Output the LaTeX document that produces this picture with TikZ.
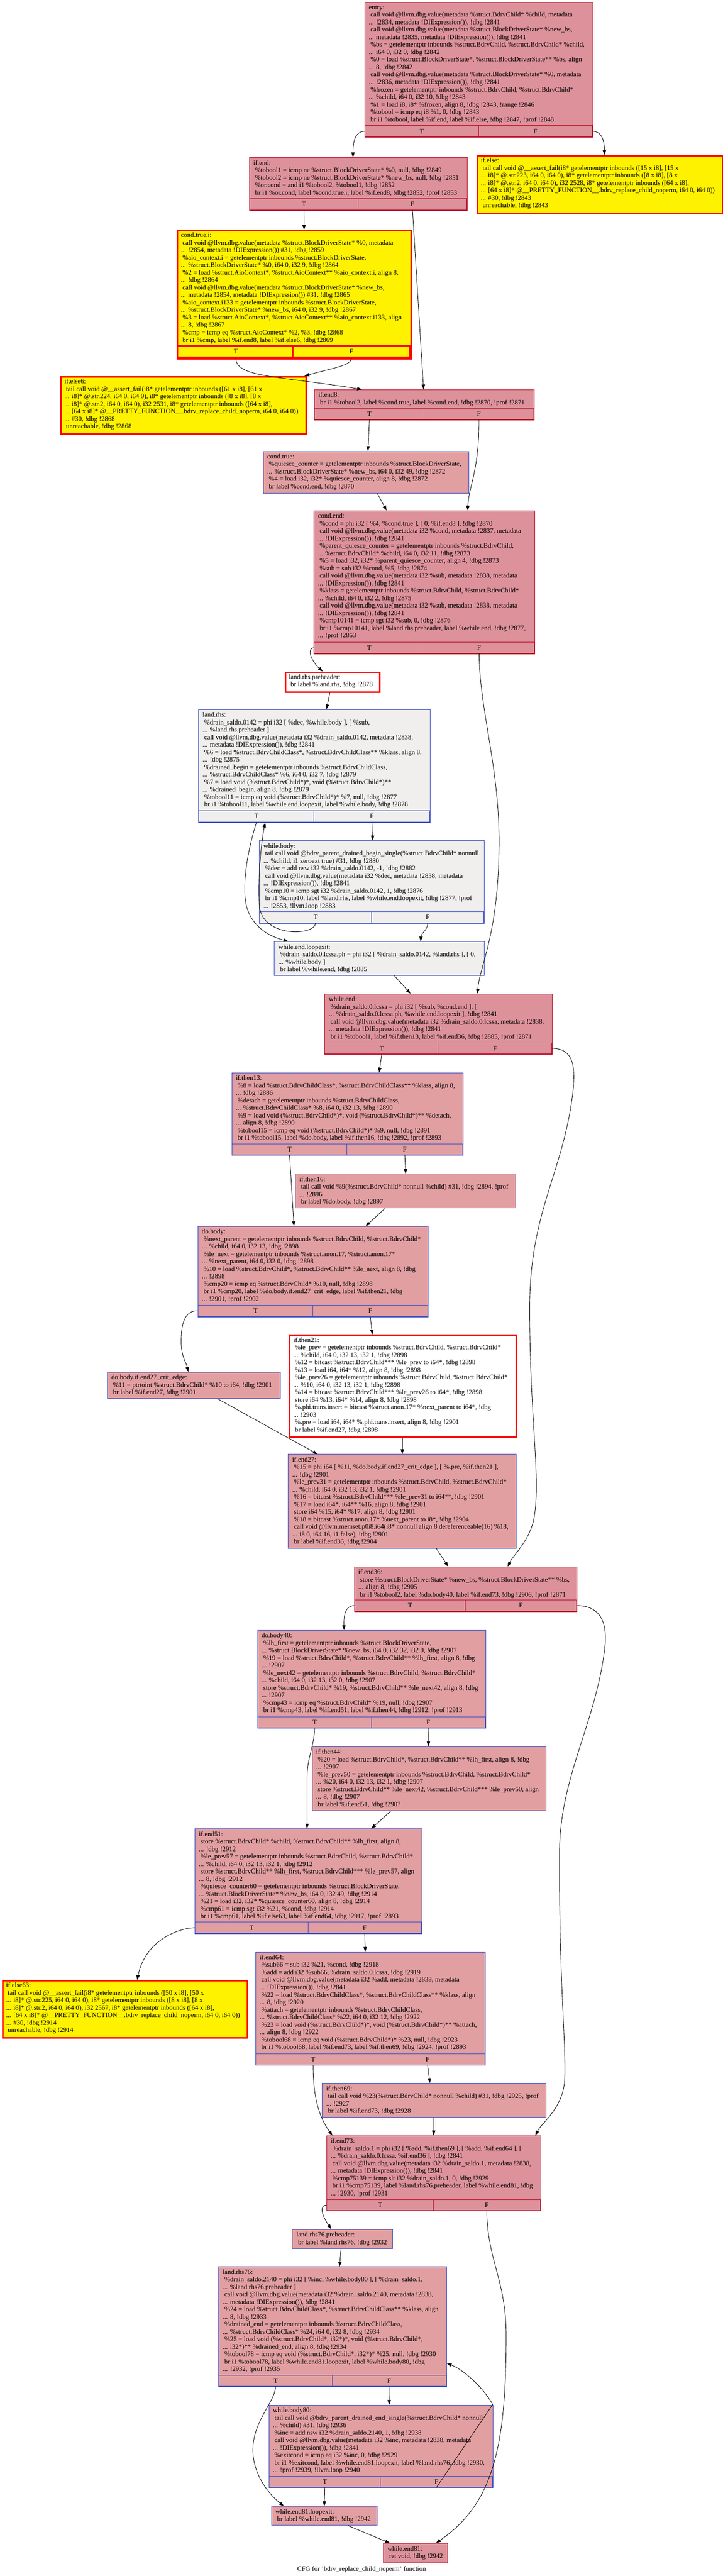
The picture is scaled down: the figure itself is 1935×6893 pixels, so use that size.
\documentclass[tikz,border=0pt]{standalone}
\usepackage{fontspec}
\setmainfont{Liberation Serif}
\usetikzlibrary{arrows.meta}
\definecolor{hotfill}{HTML}{DD929B}
\definecolor{warmfill}{HTML}{E29FA2}
\definecolor{coldfill}{HTML}{F0EFEE}
\definecolor{hotline}{HTML}{B70D28}
\definecolor{coolline}{HTML}{3D50C3}

% block: style, name, x1, y1, x2, y2, text
\newcommand\cfgbox[7]{%
  \pgfmathsetmacro\boxw{(#5-#3)/2}%
  \pgfmathsetmacro\boxh{(#6-#4)/2}%
  \node[#1,anchor=north west,minimum width=\boxw pt,minimum height=\boxh pt] (#2) at (#3,#4) {};
  \node[txt,anchor=north west] (#2-txt) at (#3+11,#4+6) {\strut{}#7};
}
% T/F row: style, name, x1, x2, y2
\newcommand\cfgtf[5]{%
  \pgfmathsetmacro\cellw{(#4-#3)/4}%
  \node[#1,txt,anchor=south west,minimum width=\cellw pt,minimum height=15pt] (#2T) at (#3,#5) {T};
  \node[#1,txt,anchor=south east,minimum width=\cellw pt,minimum height=15pt] (#2F) at (#4,#5) {F};
}

\begin{document}
\begin{tikzpicture}[x=0.5pt,y=-0.5pt]
  \tikzstyle{hot}=[draw=hotline,fill=hotfill,line width=0.7pt]
  \tikzstyle{warm}=[draw=coolline,fill=warmfill,line width=0.6pt]
  \tikzstyle{cold}=[draw=coolline,fill=coldfill,line width=0.6pt]
  \tikzstyle{fail}=[draw=red,fill=yellow,line width=2pt]
  \tikzstyle{flagged}=[draw=red,fill=white,line width=2pt]
  \tikzstyle{txt}=[inner sep=0pt,align=left,font=\fontsize{9}{10}\selectfont]
  \tikzstyle{cfgarrow}=[-{Triangle[length=6.5pt,width=4.5pt]},line width=0.6pt,black]
  \useasboundingbox (0,0) rectangle (1935,6893);

  \cfgbox{hot}{entry}{976}{5}{1587}{367}{entry:\\
\ call void @llvm.dbg.value(metadata \%struct.BdrvChild* \%child, metadata\\
... !2834, metadata !DIExpression()), !dbg !2841\\
\ call void @llvm.dbg.value(metadata \%struct.BlockDriverState* \%new\_bs,\\
... metadata !2835, metadata !DIExpression()), !dbg !2841\\
\ \%bs = getelementptr inbounds \%struct.BdrvChild, \%struct.BdrvChild* \%child,\\
... i64 0, i32 0, !dbg !2842\\
\ \%0 = load \%struct.BlockDriverState*, \%struct.BlockDriverState** \%bs, align\\
... 8, !dbg !2842\\
\ call void @llvm.dbg.value(metadata \%struct.BlockDriverState* \%0, metadata\\
... !2836, metadata !DIExpression()), !dbg !2841\\
\ \%frozen = getelementptr inbounds \%struct.BdrvChild, \%struct.BdrvChild*\\
... \%child, i64 0, i32 10, !dbg !2843\\
\ \%1 = load i8, i8* \%frozen, align 8, !dbg !2843, !range !2846\\
\ \%tobool = icmp eq i8 \%1, 0, !dbg !2843\\
\ br i1 \%tobool, label \%if.end, label \%if.else, !dbg !2847, !prof !2848}
  \cfgtf{hot}{entry}{976}{1587}{367}

  \cfgbox{fail}{ifelse}{1276}{415}{1933}{569}{if.else:\\
\ tail call void @\_\_assert\_fail(i8* getelementptr inbounds ([15 x i8], [15 x\\
... i8]* @.str.223, i64 0, i64 0), i8* getelementptr inbounds ([8 x i8], [8 x\\
... i8]* @.str.2, i64 0, i64 0), i32 2528, i8* getelementptr inbounds ([64 x i8],\\
... [64 x i8]* @\_\_PRETTY\_FUNCTION\_\_.bdrv\_replace\_child\_noperm, i64 0, i64 0))\\
... \#30, !dbg !2843\\
\ unreachable, !dbg !2843}

  \cfgbox{hot}{ifend}{667}{421}{1251}{562}{if.end:\\
\ \%tobool1 = icmp ne \%struct.BlockDriverState* \%0, null, !dbg !2849\\
\ \%tobool2 = icmp ne \%struct.BlockDriverState* \%new\_bs, null, !dbg !2851\\
\ \%or.cond = and i1 \%tobool2, \%tobool1, !dbg !2852\\
\ br i1 \%or.cond, label \%cond.true.i, label \%if.end8, !dbg !2852, !prof !2853}
  \cfgtf{hot}{ifend}{667}{1251}{562}

  \cfgbox{fail}{condtruei}{473}{615}{1099}{958}{cond.true.i:\\
\ call void @llvm.dbg.value(metadata \%struct.BlockDriverState* \%0, metadata\\
... !2854, metadata !DIExpression()) \#31, !dbg !2859\\
\ \%aio\_context.i = getelementptr inbounds \%struct.BlockDriverState,\\
... \%struct.BlockDriverState* \%0, i64 0, i32 9, !dbg !2864\\
\ \%2 = load \%struct.AioContext*, \%struct.AioContext** \%aio\_context.i, align 8,\\
... !dbg !2864\\
\ call void @llvm.dbg.value(metadata \%struct.BlockDriverState* \%new\_bs,\\
... metadata !2854, metadata !DIExpression()) \#31, !dbg !2865\\
\ \%aio\_context.i133 = getelementptr inbounds \%struct.BlockDriverState,\\
... \%struct.BlockDriverState* \%new\_bs, i64 0, i32 9, !dbg !2867\\
\ \%3 = load \%struct.AioContext*, \%struct.AioContext** \%aio\_context.i133, align\\
... 8, !dbg !2867\\
\ \%cmp = icmp eq \%struct.AioContext* \%2, \%3, !dbg !2868\\
\ br i1 \%cmp, label \%if.end8, label \%if.else6, !dbg !2869}
  \cfgtf{fail}{condtruei}{473}{1099}{958}

  \cfgbox{fail}{ifelse6}{161}{1006}{818}{1159}{if.else6:\\
\ tail call void @\_\_assert\_fail(i8* getelementptr inbounds ([61 x i8], [61 x\\
... i8]* @.str.224, i64 0, i64 0), i8* getelementptr inbounds ([8 x i8], [8 x\\
... i8]* @.str.2, i64 0, i64 0), i32 2531, i8* getelementptr inbounds ([64 x i8],\\
... [64 x i8]* @\_\_PRETTY\_FUNCTION\_\_.bdrv\_replace\_child\_noperm, i64 0, i64 0))\\
... \#30, !dbg !2868\\
\ unreachable, !dbg !2868}

  \cfgbox{hot}{ifend8}{841}{1042}{1430}{1123}{if.end8:\\
\ br i1 \%tobool2, label \%cond.true, label \%cond.end, !dbg !2870, !prof !2871}
  \cfgtf{hot}{ifend8}{841}{1430}{1123}

  \cfgbox{warm}{condtrue}{704}{1207}{1255}{1319}{cond.true:\\
\ \%quiesce\_counter = getelementptr inbounds \%struct.BlockDriverState,\\
... \%struct.BlockDriverState* \%new\_bs, i64 0, i32 49, !dbg !2872\\
\ \%4 = load i32, i32* \%quiesce\_counter, align 8, !dbg !2872\\
\ br label \%cond.end, !dbg !2870}

  \cfgbox{hot}{condend}{840}{1366}{1431}{1749}{cond.end:\\
\ \%cond = phi i32 [ \%4, \%cond.true ], [ 0, \%if.end8 ], !dbg !2870\\
\ call void @llvm.dbg.value(metadata i32 \%cond, metadata !2837, metadata\\
... !DIExpression()), !dbg !2841\\
\ \%parent\_quiesce\_counter = getelementptr inbounds \%struct.BdrvChild,\\
... \%struct.BdrvChild* \%child, i64 0, i32 11, !dbg !2873\\
\ \%5 = load i32, i32* \%parent\_quiesce\_counter, align 4, !dbg !2873\\
\ \%sub = sub i32 \%cond, \%5, !dbg !2874\\
\ call void @llvm.dbg.value(metadata i32 \%sub, metadata !2838, metadata\\
... !DIExpression()), !dbg !2841\\
\ \%klass = getelementptr inbounds \%struct.BdrvChild, \%struct.BdrvChild*\\
... \%child, i64 0, i32 2, !dbg !2875\\
\ call void @llvm.dbg.value(metadata i32 \%sub, metadata !2838, metadata\\
... !DIExpression()), !dbg !2841\\
\ \%cmp10141 = icmp sgt i32 \%sub, 0, !dbg !2876\\
\ br i1 \%cmp10141, label \%land.rhs.preheader, label \%while.end, !dbg !2877,\\
... !prof !2853}
  \cfgtf{hot}{condend}{840}{1431}{1749}

  \cfgbox{flagged}{lrhspre}{762}{1797}{1015}{1850}{land.rhs.preheader:\\
\ br label \%land.rhs, !dbg !2878}

  \cfgbox{cold}{lrhs}{531}{1898}{1151}{2200}{land.rhs:\\
\ \%drain\_saldo.0142 = phi i32 [ \%dec, \%while.body ], [ \%sub,\\
... \%land.rhs.preheader ]\\
\ call void @llvm.dbg.value(metadata i32 \%drain\_saldo.0142, metadata !2838,\\
... metadata !DIExpression()), !dbg !2841\\
\ \%6 = load \%struct.BdrvChildClass*, \%struct.BdrvChildClass** \%klass, align 8,\\
... !dbg !2875\\
\ \%drained\_begin = getelementptr inbounds \%struct.BdrvChildClass,\\
... \%struct.BdrvChildClass* \%6, i64 0, i32 7, !dbg !2879\\
\ \%7 = load void (\%struct.BdrvChild*)*, void (\%struct.BdrvChild*)**\\
... \%drained\_begin, align 8, !dbg !2879\\
\ \%tobool11 = icmp eq void (\%struct.BdrvChild*)* \%7, null, !dbg !2877\\
\ br i1 \%tobool11, label \%while.end.loopexit, label \%while.body, !dbg !2878}
  \cfgtf{cold}{lrhs}{531}{1151}{2200}

  \cfgbox{cold}{wbody}{694}{2249}{1296}{2470}{while.body:\\
\ tail call void @bdrv\_parent\_drained\_begin\_single(\%struct.BdrvChild* nonnull\\
... \%child, i1 zeroext true) \#31, !dbg !2880\\
\ \%dec = add nsw i32 \%drain\_saldo.0142, -1, !dbg !2882\\
\ call void @llvm.dbg.value(metadata i32 \%dec, metadata !2838, metadata\\
... !DIExpression()), !dbg !2841\\
\ \%cmp10 = icmp sgt i32 \%drain\_saldo.0142, 1, !dbg !2876\\
\ br i1 \%cmp10, label \%land.rhs, label \%while.end.loopexit, !dbg !2877, !prof\\
... !2853, !llvm.loop !2883}
  \cfgtf{cold}{wbody}{694}{1296}{2470}

  \cfgbox{cold}{wexit}{734}{2519}{1296}{2610}{while.end.loopexit:\\
\ \%drain\_saldo.0.lcssa.ph = phi i32 [ \%drain\_saldo.0142, \%land.rhs ], [ 0,\\
... \%while.body ]\\
\ br label \%while.end, !dbg !2885}

  \cfgbox{hot}{wend}{869}{2659}{1478}{2821}{while.end:\\
\ \%drain\_saldo.0.lcssa = phi i32 [ \%sub, \%cond.end ], [\\
... \%drain\_saldo.0.lcssa.ph, \%while.end.loopexit ], !dbg !2841\\
\ call void @llvm.dbg.value(metadata i32 \%drain\_saldo.0.lcssa, metadata !2838,\\
... metadata !DIExpression()), !dbg !2841\\
\ br i1 \%tobool1, label \%if.then13, label \%if.end36, !dbg !2885, !prof !2871}
  \cfgtf{hot}{wend}{869}{1478}{2821}

  \cfgbox{warm}{then13}{620}{2870}{1239}{3091}{if.then13:\\
\ \%8 = load \%struct.BdrvChildClass*, \%struct.BdrvChildClass** \%klass, align 8,\\
... !dbg !2886\\
\ \%detach = getelementptr inbounds \%struct.BdrvChildClass,\\
... \%struct.BdrvChildClass* \%8, i64 0, i32 13, !dbg !2890\\
\ \%9 = load void (\%struct.BdrvChild*)*, void (\%struct.BdrvChild*)** \%detach,\\
... align 8, !dbg !2890\\
\ \%tobool15 = icmp eq void (\%struct.BdrvChild*)* \%9, null, !dbg !2891\\
\ br i1 \%tobool15, label \%do.body, label \%if.then16, !dbg !2892, !prof !2893}
  \cfgtf{warm}{then13}{620}{1239}{3091}

  \cfgbox{warm}{then16}{790}{3141}{1380}{3232}{if.then16:\\
\ tail call void \%9(\%struct.BdrvChild* nonnull \%child) \#31, !dbg !2894, !prof\\
... !2896\\
\ br label \%do.body, !dbg !2897}

  \cfgbox{warm}{dobody}{529}{3281}{1146}{3523}{do.body:\\
\ \%next\_parent = getelementptr inbounds \%struct.BdrvChild, \%struct.BdrvChild*\\
... \%child, i64 0, i32 13, !dbg !2898\\
\ \%le\_next = getelementptr inbounds \%struct.anon.17, \%struct.anon.17*\\
... \%next\_parent, i64 0, i32 0, !dbg !2898\\
\ \%10 = load \%struct.BdrvChild*, \%struct.BdrvChild** \%le\_next, align 8, !dbg\\
... !2898\\
\ \%cmp20 = icmp eq \%struct.BdrvChild* \%10, null, !dbg !2898\\
\ br i1 \%cmp20, label \%do.body.if.end27\_crit\_edge, label \%if.then21, !dbg\\
... !2901, !prof !2902}
  \cfgtf{warm}{dobody}{529}{1146}{3523}

  \cfgbox{flagged}{then21}{774}{3571}{1380}{3843}{if.then21:\\
\ \%le\_prev = getelementptr inbounds \%struct.BdrvChild, \%struct.BdrvChild*\\
... \%child, i64 0, i32 13, i32 1, !dbg !2898\\
\ \%12 = bitcast \%struct.BdrvChild*** \%le\_prev to i64*, !dbg !2898\\
\ \%13 = load i64, i64* \%12, align 8, !dbg !2898\\
\ \%le\_prev26 = getelementptr inbounds \%struct.BdrvChild, \%struct.BdrvChild*\\
... \%10, i64 0, i32 13, i32 1, !dbg !2898\\
\ \%14 = bitcast \%struct.BdrvChild*** \%le\_prev26 to i64*, !dbg !2898\\
\ store i64 \%13, i64* \%14, align 8, !dbg !2898\\
\ \%.phi.trans.insert = bitcast \%struct.anon.17* \%next\_parent to i64*, !dbg\\
... !2903\\
\ \%.pre = load i64, i64* \%.phi.trans.insert, align 8, !dbg !2901\\
\ br label \%if.end27, !dbg !2898}

  \cfgbox{warm}{critedge}{287}{3671}{750}{3742}{do.body.if.end27\_crit\_edge:\\
\ \%11 = ptrtoint \%struct.BdrvChild* \%10 to i64, !dbg !2901\\
\ br label \%if.end27, !dbg !2901}

  \cfgbox{warm}{end27}{771}{3891}{1381}{4142}{if.end27:\\
\ \%15 = phi i64 [ \%11, \%do.body.if.end27\_crit\_edge ], [ \%.pre, \%if.then21 ],\\
... !dbg !2901\\
\ \%le\_prev31 = getelementptr inbounds \%struct.BdrvChild, \%struct.BdrvChild*\\
... \%child, i64 0, i32 13, i32 1, !dbg !2901\\
\ \%16 = bitcast \%struct.BdrvChild*** \%le\_prev31 to i64**, !dbg !2901\\
\ \%17 = load i64*, i64** \%16, align 8, !dbg !2901\\
\ store i64 \%15, i64* \%17, align 8, !dbg !2901\\
\ \%18 = bitcast \%struct.anon.17* \%next\_parent to i8*, !dbg !2904\\
\ call void @llvm.memset.p0i8.i64(i8* nonnull align 8 dereferenceable(16) \%18,\\
... i8 0, i64 16, i1 false), !dbg !2901\\
\ br label \%if.end36, !dbg !2904}

  \cfgbox{hot}{end36}{948}{4192}{1544}{4312}{if.end36:\\
\ store \%struct.BlockDriverState* \%new\_bs, \%struct.BlockDriverState** \%bs,\\
... align 8, !dbg !2905\\
\ br i1 \%tobool2, label \%do.body40, label \%if.end73, !dbg !2906, !prof !2871}
  \cfgtf{hot}{end36}{948}{1544}{4312}

  \cfgbox{warm}{dobody40}{689}{4362}{1300}{4624}{do.body40:\\
\ \%lh\_first = getelementptr inbounds \%struct.BlockDriverState,\\
... \%struct.BlockDriverState* \%new\_bs, i64 0, i32 32, i32 0, !dbg !2907\\
\ \%19 = load \%struct.BdrvChild*, \%struct.BdrvChild** \%lh\_first, align 8, !dbg\\
... !2907\\
\ \%le\_next42 = getelementptr inbounds \%struct.BdrvChild, \%struct.BdrvChild*\\
... \%child, i64 0, i32 13, i32 0, !dbg !2907\\
\ store \%struct.BdrvChild* \%19, \%struct.BdrvChild** \%le\_next42, align 8, !dbg\\
... !2907\\
\ \%cmp43 = icmp eq \%struct.BdrvChild* \%19, null, !dbg !2907\\
\ br i1 \%cmp43, label \%if.end51, label \%if.then44, !dbg !2912, !prof !2913}
  \cfgtf{warm}{dobody40}{689}{1300}{4624}

  \cfgbox{warm}{then44}{835}{4673}{1461}{4844}{if.then44:\\
\ \%20 = load \%struct.BdrvChild*, \%struct.BdrvChild** \%lh\_first, align 8, !dbg\\
... !2907\\
\ \%le\_prev50 = getelementptr inbounds \%struct.BdrvChild, \%struct.BdrvChild*\\
... \%20, i64 0, i32 13, i32 1, !dbg !2907\\
\ store \%struct.BdrvChild** \%le\_next42, \%struct.BdrvChild*** \%le\_prev50, align\\
... 8, !dbg !2907\\
\ br label \%if.end51, !dbg !2907}

  \cfgbox{warm}{end51}{521}{4893}{1129}{5174}{if.end51:\\
\ store \%struct.BdrvChild* \%child, \%struct.BdrvChild** \%lh\_first, align 8,\\
... !dbg !2912\\
\ \%le\_prev57 = getelementptr inbounds \%struct.BdrvChild, \%struct.BdrvChild*\\
... \%child, i64 0, i32 13, i32 1, !dbg !2912\\
\ store \%struct.BdrvChild** \%lh\_first, \%struct.BdrvChild*** \%le\_prev57, align\\
... 8, !dbg !2912\\
\ \%quiesce\_counter60 = getelementptr inbounds \%struct.BlockDriverState,\\
... \%struct.BlockDriverState* \%new\_bs, i64 0, i32 49, !dbg !2914\\
\ \%21 = load i32, i32* \%quiesce\_counter60, align 8, !dbg !2914\\
\ \%cmp61 = icmp sgt i32 \%21, \%cond, !dbg !2914\\
\ br i1 \%cmp61, label \%if.else63, label \%if.end64, !dbg !2917, !prof !2893}
  \cfgtf{warm}{end51}{521}{1129}{5174}

  \cfgbox{fail}{else63}{5}{5298}{661}{5451}{if.else63:\\
\ tail call void @\_\_assert\_fail(i8* getelementptr inbounds ([50 x i8], [50 x\\
... i8]* @.str.225, i64 0, i64 0), i8* getelementptr inbounds ([8 x i8], [8 x\\
... i8]* @.str.2, i64 0, i64 0), i32 2567, i8* getelementptr inbounds ([64 x i8],\\
... [64 x i8]* @\_\_PRETTY\_FUNCTION\_\_.bdrv\_replace\_child\_noperm, i64 0, i64 0))\\
... \#30, !dbg !2914\\
\ unreachable, !dbg !2914}

  \cfgbox{warm}{end64}{684}{5223}{1299}{5526}{if.end64:\\
\ \%sub66 = sub i32 \%21, \%cond, !dbg !2918\\
\ \%add = add i32 \%sub66, \%drain\_saldo.0.lcssa, !dbg !2919\\
\ call void @llvm.dbg.value(metadata i32 \%add, metadata !2838, metadata\\
... !DIExpression()), !dbg !2841\\
\ \%22 = load \%struct.BdrvChildClass*, \%struct.BdrvChildClass** \%klass, align\\
... 8, !dbg !2920\\
\ \%attach = getelementptr inbounds \%struct.BdrvChildClass,\\
... \%struct.BdrvChildClass* \%22, i64 0, i32 12, !dbg !2922\\
\ \%23 = load void (\%struct.BdrvChild*)*, void (\%struct.BdrvChild*)** \%attach,\\
... align 8, !dbg !2922\\
\ \%tobool68 = icmp eq void (\%struct.BdrvChild*)* \%23, null, !dbg !2923\\
\ br i1 \%tobool68, label \%if.end73, label \%if.then69, !dbg !2924, !prof !2893}
  \cfgtf{warm}{end64}{684}{1299}{5526}

  \cfgbox{warm}{then69}{862}{5574}{1461}{5665}{if.then69:\\
\ tail call void \%23(\%struct.BdrvChild* nonnull \%child) \#31, !dbg !2925, !prof\\
... !2927\\
\ br label \%if.end73, !dbg !2928}

  \cfgbox{hot}{end73}{874}{5714}{1447}{5916}{if.end73:\\
\ \%drain\_saldo.1 = phi i32 [ \%add, \%if.then69 ], [ \%add, \%if.end64 ], [\\
... \%drain\_saldo.0.lcssa, \%if.end36 ], !dbg !2841\\
\ call void @llvm.dbg.value(metadata i32 \%drain\_saldo.1, metadata !2838,\\
... metadata !DIExpression()), !dbg !2841\\
\ \%cmp75139 = icmp slt i32 \%drain\_saldo.1, 0, !dbg !2929\\
\ br i1 \%cmp75139, label \%land.rhs76.preheader, label \%while.end81, !dbg\\
... !2930, !prof !2931}
  \cfgtf{hot}{end73}{874}{1447}{5916}

  \cfgbox{warm}{lrhs76pre}{782}{5965}{1050}{6016}{land.rhs76.preheader:\\
\ br label \%land.rhs76, !dbg !2932}

  \cfgbox{warm}{lrhs76}{585}{6065}{1195}{6386}{land.rhs76:\\
\ \%drain\_saldo.2140 = phi i32 [ \%inc, \%while.body80 ], [ \%drain\_saldo.1,\\
... \%land.rhs76.preheader ]\\
\ call void @llvm.dbg.value(metadata i32 \%drain\_saldo.2140, metadata !2838,\\
... metadata !DIExpression()), !dbg !2841\\
\ \%24 = load \%struct.BdrvChildClass*, \%struct.BdrvChildClass** \%klass, align\\
... 8, !dbg !2933\\
\ \%drained\_end = getelementptr inbounds \%struct.BdrvChildClass,\\
... \%struct.BdrvChildClass* \%24, i64 0, i32 8, !dbg !2934\\
\ \%25 = load void (\%struct.BdrvChild*, i32*)*, void (\%struct.BdrvChild*,\\
... i32*)** \%drained\_end, align 8, !dbg !2934\\
\ \%tobool78 = icmp eq void (\%struct.BdrvChild*, i32*)* \%25, null, !dbg !2930\\
\ br i1 \%tobool78, label \%while.end81.loopexit, label \%while.body80, !dbg\\
... !2932, !prof !2935}
  \cfgtf{warm}{lrhs76}{585}{1195}{6386}

  \cfgbox{warm}{wbody80}{719}{6435}{1319}{6656}{while.body80:\\
\ tail call void @bdrv\_parent\_drained\_end\_single(\%struct.BdrvChild* nonnull\\
... \%child) \#31, !dbg !2936\\
\ \%inc = add nsw i32 \%drain\_saldo.2140, 1, !dbg !2938\\
\ call void @llvm.dbg.value(metadata i32 \%inc, metadata !2838, metadata\\
... !DIExpression()), !dbg !2841\\
\ \%exitcond = icmp eq i32 \%inc, 0, !dbg !2929\\
\ br i1 \%exitcond, label \%while.end81.loopexit, label \%land.rhs76, !dbg !2930,\\
... !prof !2939, !llvm.loop !2940}
  \cfgtf{warm}{wbody80}{719}{1319}{6656}

  \cfgbox{warm}{wexit81}{726}{6706}{1009}{6757}{while.end81.loopexit:\\
\ br label \%while.end81, !dbg !2942}

  \cfgbox{hot}{wend81}{1026}{6805}{1198}{6857}{while.end81:\\
\ ret void, !dbg !2942}

  \node[txt,anchor=base] (title) at (968,6880) {CFG for 'bdrv\_replace\_child\_noperm' function};

  \draw[cfgarrow] (entryT.west) .. controls (948,352) and (945,385) .. (945,0 |- ifend.north);
  \draw[cfgarrow] (entryF.east) .. controls (1615,352) and (1618,385) .. (1618,0 |- ifelse.north);
  \draw[cfgarrow] (ifendT.south) -- (814,0 |- condtruei.north);
  \draw[cfgarrow] (ifendF.south) -- (1134,0 |- ifend8.north);
  \draw[cfgarrow] (condtrueiT.south) .. controls (631,1010) and (740,1005) .. (969,0 |- ifend8.north);
  \draw[cfgarrow] (condtrueiF.south) .. controls (942,978) and (890,985) .. (815,0 |- ifelse6.north);
  \draw[cfgarrow] (ifend8T.south) -- (985,0 |- condtrue.north);
  \draw[cfgarrow] (ifend8F.south) .. controls (1283,1260) and (1255,1300) .. (1252,0 |- condend.north);
  \draw[cfgarrow] (condtrue.south -| 1010,0) -- (1035,0 |- condend.north);
  \draw[cfgarrow] (condendT.west) .. controls (822,1734) and (830,1765) .. (864,0 |- lrhspre.north);
  \draw[cfgarrow] (condendF.south) .. controls (1284,1900) and (1336,2050) .. (1336,2250)
    .. controls (1336,2500) and (1285,2580) .. (1278,0 |- wend.north);
  \draw[cfgarrow] (lrhspre.south -| 883,0) -- (874,0 |- lrhs.north);
  \draw[cfgarrow] (lrhsT.south) .. controls (662,2280) and (652,2350) .. (656,2400)
    .. controls (660,2460) and (700,2500) .. (772,0 |- wexit.north);
  \draw[cfgarrow] (wbodyT.south) .. controls (843,2505) and (698,2510) .. (694,2420)
    .. controls (690,2330) and (702,2240) .. (710,0 |- lrhs.south);
  \draw[cfgarrow] (lrhsF.south) -- (998,0 |- wbody.north);
  \draw[cfgarrow] (wbodyF.south) .. controls (1145,2490) and (1128,2495) .. (1126,0 |- wexit.north);
  \draw[cfgarrow] (wexit.south -| 1056,0) -- (1099,0 |- wend.north);
  \draw[cfgarrow] (wendT.south) -- (1015,0 |- then13.north);
  \draw[cfgarrow] (wendF.east) .. controls (1535,2806) and (1545,2850) .. (1530,2950)
    .. controls (1500,3150) and (1418,3250) .. (1418,3500)
    .. controls (1418,3800) and (1448,3950) .. (1430,4060)
    .. controls (1420,4120) and (1375,4160) .. (1359,0 |- end36.north);
  \draw[cfgarrow] (then13T.south) -- (787,0 |- dobody.north);
  \draw[cfgarrow] (then13F.south) -- (1086,0 |- then16.north);
  \draw[cfgarrow] (then16.south -| 1031,0) -- (979,0 |- dobody.north);
  \draw[cfgarrow] (dobodyT.west) .. controls (495,3507) and (485,3540) .. (485,3590)
    .. controls (485,3630) and (500,3650) .. (504,0 |- critedge.north);
  \draw[cfgarrow] (dobodyF.south) -- (997,0 |- then21.north);
  \draw[cfgarrow] (critedge.south -| 583,0) -- (850,0 |- end27.north);
  \draw[cfgarrow] (then21.south -| 1077,0) -- (1077,0 |- end27.north);
  \draw[cfgarrow] (end27.south -| 1168,0) -- (1200,0 |- end36.north);
  \draw[cfgarrow] (end36T.west) .. controls (925,4297) and (920,4320) .. (921,0 |- dobody40.north);
  \draw[cfgarrow] (end36F.east) .. controls (1600,4297) and (1625,4330) .. (1620,4400)
    .. controls (1600,4600) and (1500,4750) .. (1498,4950)
    .. controls (1496,5300) and (1515,5450) .. (1512,5560)
    .. controls (1510,5640) and (1450,5680) .. (1433,0 |- end73.north);
  \draw[cfgarrow] (dobody40T.south) .. controls (840,4680) and (822,4700) .. (822,4760) -- (822,0 |- end51.north);
  \draw[cfgarrow] (dobody40F.south) -- (1147,0 |- then44.north);
  \draw[cfgarrow] (then44.south -| 1047,0) -- (994,0 |- end51.north);
  \draw[cfgarrow] (end51T.west) .. controls (480,5159) and (390,5190) .. (367,0 |- else63.north);
  \draw[cfgarrow] (end51F.south) -- (978,0 |- end64.north);
  \draw[cfgarrow] (end64T.south) .. controls (838,5600) and (850,5660) .. (890,0 |- end73.north);
  \draw[cfgarrow] (end64F.south) -- (1151,0 |- then69.north);
  \draw[cfgarrow] (then69.south -| 1161,0) -- (1161,0 |- end73.north);
  \draw[cfgarrow] (end73T.west) .. controls (855,5901) and (860,5925) .. (887,0 |- lrhs76pre.north);
  \draw[cfgarrow] (end73F.south) .. controls (1305,6050) and (1355,6100) .. (1355,6250)
    .. controls (1355,6550) and (1320,6700) .. (1167,0 |- wend81.north);
  \draw[cfgarrow] (lrhs76pre.south -| 913,0) -- (909,0 |- lrhs76.north);
  \draw[cfgarrow] (lrhs76T.south) .. controls (735,6430) and (675,6480) .. (677,6560)
    .. controls (680,6640) and (740,6690) .. (760,0 |- wexit81.north);
  \draw[cfgarrow] (lrhs76F.south) -- (1042,0 |- wbody80.north);
  \draw[cfgarrow] (wbody80T.south) -- (868,0 |- wexit81.north);
  \draw[cfgarrow] (wbody80F.south) -- (1319,6434) .. controls (1295,6390) and (1240,6340) .. (lrhs76.east |- 0,6324);
  \draw[cfgarrow] (wexit81.south -| 932,0) -- (1044,0 |- wend81.north);
\end{tikzpicture}
\end{document}
